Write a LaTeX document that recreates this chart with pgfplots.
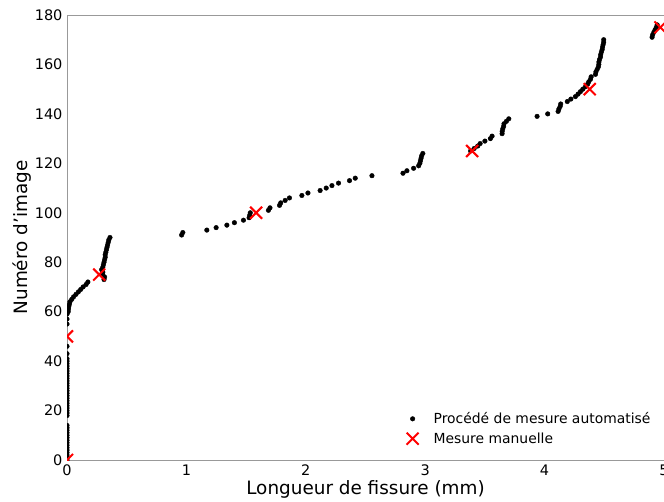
\documentclass[border=0pt]{standalone}
\usepackage{pgfplots}
\pgfplotsset{compat=1.18}
\usepackage{pgfplotstable}
\usepackage{fontspec}
\setmainfont{DejaVu Sans}
\usetikzlibrary{calc}

\pgfplotstableread{
x y
0 0
0 1
0 2
0 3
0 4
0 5
0 6
0 7
0 8
0 9
0 10
0 11
0 12
0 13
0 14
0 18
0 19
0 20
0 21
0 22
0 23
0 24
0 25
0 26
0 27
0 28
0 29
0 30
0 31
0 32
0 33
0 34
0 35
0 36
0 37
0 38
0 39
0 40
0 41
0 43
0 46
0 55
0 57
0 59
0.010 60
0.012 61
0.015 62
0.020 63
0.025 64
0.040 65
0.055 66
0.075 67
0.095 68
0.115 69
0.135 70
0.160 71
0.175 72
0.310 73
0.315 74
0.300 75
0.300 76
0.290 77
0.300 78
0.305 79
0.310 80
0.315 81
0.320 82
0.320 83
0.325 84
0.330 85
0.335 86
0.340 87
0.345 88
0.350 89
0.360 90
0.960 91
0.970 92
1.171 93
1.249 94
1.339 95
1.402 96
1.478 97
1.525 98
1.530 99
1.535 100
1.687 101
1.700 102
1.780 103
1.790 104
1.827 105
1.863 106
1.967 107
2.018 108
2.120 109
2.171 110
2.219 111
2.274 112
2.366 113
2.414 114
2.554 115
2.814 116
2.847 117
2.903 118
2.945 119
2.955 120
2.960 121
2.965 122
2.970 123
2.980 124
3.380 125
3.410 126
3.440 127
3.460 128
3.500 129
3.546 130
3.560 131
3.644 132
3.645 133
3.650 134
3.657 135
3.660 136
3.680 137
3.700 138
3.937 139
4.026 140
4.113 141
4.120 142
4.130 143
4.135 144
4.190 145
4.220 146
4.258 147
4.280 148
4.300 149
4.320 150
4.342 151
4.360 152
4.370 153
4.384 154
4.390 155
4.426 156
4.430 157
4.440 158
4.450 159
4.454 160
4.455 161
4.460 162
4.468 163
4.470 164
4.475 165
4.482 166
4.485 167
4.490 168
4.495 169
4.495 170
4.900 171
4.905 172
4.915 173
4.925 174
4.935 175
4.943 176
}\auto

\pgfplotstableread{
x y
0 0
0 50
0.270 75
1.584 100
3.393 125
4.378 150
4.970 175
}\manual

\begin{document}
\begin{tikzpicture}
\begin{axis}[
  scale only axis, width=597pt, height=445pt,
  xmin=0, xmax=5, ymin=0, ymax=180,
  xtick={0,1,2,3,4,5}, ytick={0,20,...,180},
  axis x line=box, axis y line=left,
  axis line style={-, draw=black!40, line width=0.8pt},
  major tick length=0pt,
  tick label style={font=\fontsize{14.5}{17}\selectfont},
  /pgf/number format/assume math mode=true,
  xticklabel style={yshift=-1pt},
  yticklabel style={xshift=-1pt},
  label style={font=\fontsize{18.4}{21}\selectfont},
  xlabel={Longueur de fissure (mm)},
  ylabel={Numéro d'image},
  xlabel style={yshift=2pt},
  ylabel style={yshift=-3pt},
  clip marker paths=true,
  legend style={draw=none, fill=none, font=\fontsize{13.9}{16}\selectfont,
    at={(0.986,0.025)}, anchor=south east, row sep=3.5pt, column sep=13pt},
  legend cell align=left,
]
\addplot[only marks, mark=*, mark size=2.3pt, black] table[x=x,y=y]{\auto};
\addlegendentry{Procédé de mesure automatisé}
\addplot[only marks, mark=x, mark size=8.5pt, red, line width=2pt] table[x=x,y=y]{\manual};
\addlegendentry{Mesure manuelle}
\end{axis}
\pgfresetboundingbox
\path[use as bounding box] ($(current axis.south west)+(-67pt,-41pt)$) rectangle ($(current axis.north east)+(0pt,15pt)$);
\end{tikzpicture}
\end{document}
